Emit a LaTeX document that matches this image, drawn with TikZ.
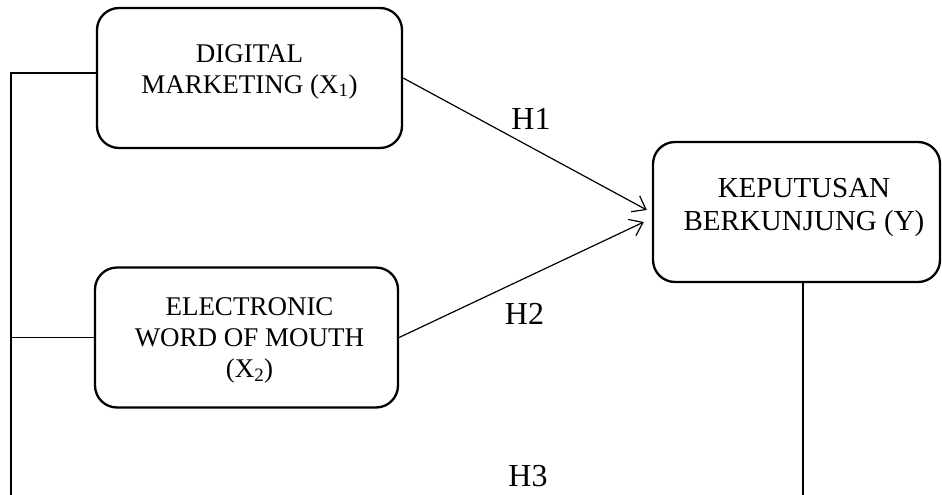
\documentclass[tikz,border=0pt]{standalone}
\usepackage{fontspec}
\setmainfont{Liberation Serif}
\usetikzlibrary{arrows.meta}
\tikzset{
	>={Straight Barb[length=12pt,width=18pt]},
	varbox/.style={
		rectangle,
		rounded corners=22pt,
		draw=black, line width=2.3pt,
		minimum height=140pt,
		inner sep=0pt
	},
	vartext/.style={
		align=center,
		inner sep=0pt,
		font={\fontsize{27pt}{31pt}\selectfont}
	},
	hlabel/.style={inner sep=0pt, font={\fontsize{32pt}{36pt}\selectfont}},
	line/.style={draw, line width=1.2pt},
}

\begin{document}
\begin{tikzpicture}[x=1pt,y=-1pt]
	\useasboundingbox (0,0) rectangle (942,495);
	% variables
	\node[varbox, minimum width=305pt] (x1) at (249.5,78) {};
	\node[varbox, minimum width=303pt] (x2) at (246.5,337.5) {};
	\node[varbox, minimum width=287pt] (y) at (796.5,212) {};
	\node[vartext] (x1t) at (249.5,71.5) {DIGITAL\\MARKETING (X\textsubscript{1})};
	\node[vartext] (x2t) at (249.5,340.5) {ELECTRONIC\\WORD OF MOUTH\\(X\textsubscript{2})};
	\node[vartext, font={\fontsize{29pt}{33pt}\selectfont}] (yt) at (804,207) {KEPUTUSAN\\BERKUNJUNG (Y)};
	% hypotheses
	\node[hlabel] (h1) at (531,119) {H1};
	\node[hlabel] (h2) at (524.5,313.5) {H2};
	\node[hlabel] (h3) at (528,476) {H3};
	\coordinate (lt) at (11,73);
	\coordinate (lb) at (11,495);
	\coordinate (rb) at (803,495);
	\draw[line,->] (x1.east) -- ([shift={(-5,-2)}]y.west);
	\draw[line,->] (x2.east) -- ([shift={(-8,10)}]y.west);
	\draw[line] ([yshift=5pt]x1.west) -- (lt) -- (lb);
	\draw[line] (x2.west) -- (x2.west -| lb);
	\draw[line] (y.south -| rb) -- (rb);
\end{tikzpicture}
\end{document}
